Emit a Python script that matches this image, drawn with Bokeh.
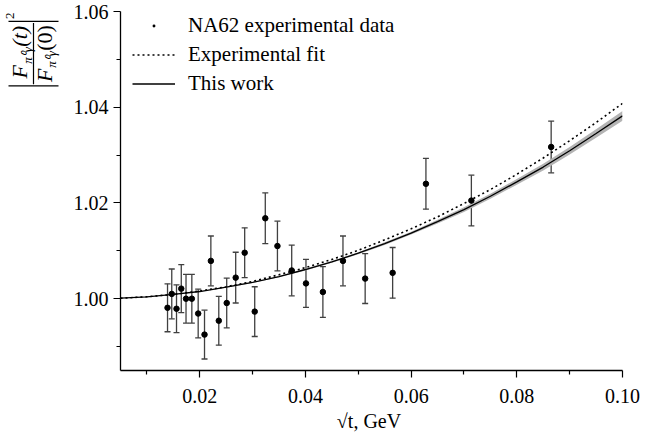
import numpy as np
from bokeh.plotting import figure
from bokeh.layouts import row
from bokeh.core.properties import value
from bokeh.models import (Range1d, FixedTicker, PrintfTickFormatter, ColumnDataSource,
                          Whisker, TeeHead, Legend, LegendItem)
from bokeh.embed import file_html
from bokeh.resources import INLINE

# ---------------- data ----------------
# NA62 experimental points
sqrt_t = [0.0139, 0.0147, 0.0156, 0.0165, 0.0174, 0.0185, 0.0197, 0.0209, 0.0221,
          0.0236, 0.0251, 0.0268, 0.0285, 0.0304, 0.0324, 0.0347, 0.0374, 0.0401,
          0.0433, 0.0471, 0.0513, 0.0565, 0.0628, 0.0714, 0.0865]
ratio = [0.9981, 1.0010, 0.9979, 1.0021, 1.0000, 1.0000, 0.9969, 0.9925, 1.0079,
         0.9954, 0.9991, 1.0044, 1.0096, 0.9973, 1.0168, 1.0110, 1.0059, 1.0032,
         1.0014, 1.0079, 1.0042, 1.0054, 1.0240, 1.0205, 1.0317]
ratio_err = [0.0050, 0.0052, 0.0050, 0.0050, 0.0051, 0.0051, 0.0051, 0.0051, 0.0052,
             0.0051, 0.0052, 0.0053, 0.0052, 0.0052, 0.0053, 0.0052, 0.0053, 0.0050,
             0.0053, 0.0052, 0.0052, 0.0053, 0.0053, 0.0053, 0.0054]

# curves
curve_x = [0.005, 0.010, 0.015, 0.020, 0.025, 0.030, 0.035, 0.040, 0.045, 0.050,
           0.055, 0.060, 0.065, 0.070, 0.075, 0.080, 0.085, 0.090, 0.095, 0.100]
exp_fit = [1.0001, 1.0004, 1.0009, 1.0016, 1.0025, 1.0036, 1.0050, 1.0065, 1.0082, 1.0101,
           1.0123, 1.0146, 1.0171, 1.0199, 1.0228, 1.0260, 1.0294, 1.0330, 1.0368, 1.0408]
this_work = [1.0001, 1.0004, 1.0009, 1.0015, 1.0024, 1.0034, 1.0046, 1.0061, 1.0077, 1.0095,
             1.0115, 1.0137, 1.0161, 1.0186, 1.0214, 1.0244, 1.0275, 1.0309, 1.0345, 1.0382]
this_work_lo = [1.0001, 1.0004, 1.0009, 1.0015, 1.0023, 1.0033, 1.0045, 1.0059, 1.0075, 1.0093,
                1.0112, 1.0134, 1.0157, 1.0181, 1.0209, 1.0238, 1.0268, 1.0301, 1.0336, 1.0372]
this_work_hi = [1.0001, 1.0004, 1.0009, 1.0015, 1.0025, 1.0035, 1.0047, 1.0063, 1.0079, 1.0097,
                1.0118, 1.0140, 1.0165, 1.0191, 1.0219, 1.0250, 1.0282, 1.0317, 1.0354, 1.0392]

x_major = [0.02, 0.04, 0.06, 0.08, 0.10]
x_minor = [0.01, 0.03, 0.05, 0.07, 0.09]
y_major = [1.00, 1.02, 1.04, 1.06]
y_minor = [0.99, 1.01, 1.03, 1.05]

SERIF = "Liberation Serif"

# ---------------- main plot ----------------
p = figure(width=593, height=434, output_backend="svg", toolbar_location=None,
           x_range=Range1d(0.005, 0.10), y_range=Range1d(0.985, 1.06),
           min_border_left=47, min_border_right=41, min_border_top=11, min_border_bottom=64)
p.grid.visible = False
p.outline_line_color = None
p.background_fill_color = "white"
p.border_fill_color = "white"

for ax in (p.xaxis[0], p.yaxis[0]):
    ax.axis_line_color = "black"
    ax.axis_line_width = 1.3
    ax.major_tick_line_color = "black"
    ax.minor_tick_line_color = "black"
    ax.major_tick_line_width = 1.2
    ax.minor_tick_line_width = 1.2
    ax.major_tick_out = 7
    ax.major_tick_in = 0
    ax.minor_tick_out = 4
    ax.minor_tick_in = 0
    ax.major_label_text_font = SERIF
    ax.major_label_text_font_size = "20px"
    ax.major_label_text_color = "black"
    ax.formatter = PrintfTickFormatter(format="%.2f")

p.xaxis.ticker = FixedTicker(ticks=x_major, minor_ticks=x_minor)
p.yaxis.ticker = FixedTicker(ticks=y_major, minor_ticks=y_minor)
p.xaxis.major_label_standoff = 11
p.yaxis.major_label_standoff = 5
p.xaxis.axis_label = "√t,  GeV"
p.xaxis.axis_label_text_font = SERIF
p.xaxis.axis_label_text_font_size = "20px"
p.xaxis.axis_label_text_font_style = "normal"
p.xaxis.axis_label_text_color = "black"
p.xaxis.axis_label_standoff = 4

# band + curves
p.varea(x=curve_x, y1=this_work_lo, y2=this_work_hi, fill_color="#b4b4b4", fill_alpha=1.0)
fit_r = p.line(curve_x, exp_fit, line_color="black", line_width=1.6, line_dash="2 3")
work_r = p.line(curve_x, this_work, line_color="black", line_width=1.3)

# error bars
lower = [r - e for r, e in zip(ratio, ratio_err)]
upper = [r + e for r, e in zip(ratio, ratio_err)]
src = ColumnDataSource(dict(x=sqrt_t, y=ratio, lower=lower, upper=upper))
wh = Whisker(source=src, base="x", lower="lower", upper="upper", dimension="height",
             line_color="#404040", line_width=1.3,
             lower_head=TeeHead(size=6, line_color="#404040", line_width=1.3),
             upper_head=TeeHead(size=6, line_color="#404040", line_width=1.3))
p.add_layout(wh)
pts = p.scatter("x", "y", source=src, size=5.5, marker="circle",
                fill_color="black", line_color="black")
# small dot marker drawn under the points; used as the legend key
pts_key = p.scatter("x", "y", source=src, size=14, marker="dot",
                    fill_color="black", line_color="black", line_width=3,
                    level="underlay")

legend = Legend(items=[LegendItem(label="NA62 experimental data", renderers=[pts_key]),
                       LegendItem(label="Experimental fit", renderers=[fit_r]),
                       LegendItem(label="This work", renderers=[work_r])],
                location=(12, 272), glyph_width=43, glyph_height=29, label_height=29,
                label_standoff=13, spacing=0, padding=0, margin=0,
                border_line_color=None, background_fill_alpha=0,
                label_text_font=SERIF, label_text_font_size="21px",
                label_text_color="black")
p.add_layout(legend)

# ---------------- y-axis label panel (rotated fraction) ----------------
q = figure(width=70, height=434, output_backend="svg", toolbar_location=None,
           x_range=Range1d(0, 70), y_range=Range1d(0, 434),
           x_axis_location=None, y_axis_location=None, min_border=0)
q.grid.visible = False
q.outline_line_color = None
q.border_fill_color = "white"
q.background_fill_color = "white"

def fx(ix):
    return ix - 8

def fy(iy):
    return 442 - iy

big = [("F", 27, 81, "italic"), ("(t)", 27, 38, "italic"),
       ("F", 52, 85, "italic"), ("(0)", 52, 40, "normal")]
for txt, ix, iy, st in big:
    q.text(x=[fx(ix)], y=[fy(iy)], text=[txt], angle=np.pi / 2,
           text_align="center", text_baseline="middle",
           text_font=value(SERIF), text_font_size="22px", text_font_style=st,
           text_color="black")
small = [("π⁰γ", 35, 61, "italic"), ("π⁰γ", 59, 66, "italic"), ("2", 17, 13, "normal")]
for txt, ix, iy, st in small:
    q.text(x=[fx(ix)], y=[fy(iy)], text=[txt], angle=np.pi / 2,
           text_align="center", text_baseline="middle",
           text_font=value(SERIF), text_font_size="13px", text_font_style=st,
           text_color="black")
q.segment(x0=[fx(41), fx(16), fx(16)], y0=[fy(22), fy(98), fy(20)],
          x1=[fx(41), fx(66), fx(66)], y1=[fy(96), fy(98), fy(20)],
          line_color="black", line_width=1.2)

layout = row(q, p, spacing=0)
open("out.html", "w").write(file_html(layout, INLINE))
